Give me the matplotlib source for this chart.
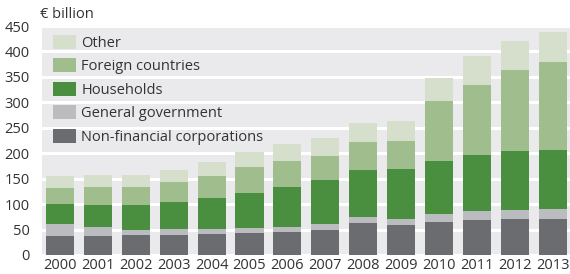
import numpy as np
import matplotlib.pyplot as plt
from matplotlib.patches import Patch

# --- data (EUR billion) ---
years = ["2000", "2001", "2002", "2003", "2004", "2005", "2006",
         "2007", "2008", "2009", "2010", "2011", "2012", "2013"]
nonfin_corps = [37, 37, 39, 39, 42, 44, 46, 50, 63, 59, 65, 69, 71, 71]
general_gov = [24, 18, 10, 12, 9, 10, 9, 11, 12, 12, 15, 18, 18, 20]
households = [40, 43, 49, 53, 61, 68, 78, 87, 92, 98, 104, 110, 115, 115]
foreign = [31, 36, 36, 39, 44, 51, 52, 47, 55, 55, 118, 138, 160, 174]
other = [23, 23, 23, 25, 27, 29, 33, 35, 37, 39, 46, 57, 57, 59]

series_names = ["Non-financial corporations", "General government",
                "Households", "Foreign countries", "Other"]
colors = ["#6b6c70", "#bbbcc0", "#4a8f3f", "#a0bd8e", "#d5dfcb"]
y_ticks = [0, 50, 100, 150, 200, 250, 300, 350, 400, 450]

plt.rcParams['font.family'] = ['Open Sans', 'DejaVu Sans']

fig = plt.figure(figsize=(5.70, 2.74), dpi=100)
ax = fig.add_axes([42 / 570, 19 / 274, 528 / 570, 229 / 274])
ax.set_facecolor("#eaeaec")

x = np.arange(len(years))
bottom = np.zeros(len(years))
for vals, col in zip([nonfin_corps, general_gov, households, foreign, other], colors):
    ax.bar(x, vals, width=0.74, bottom=bottom, color=col, zorder=3, linewidth=0)
    bottom += np.array(vals)

ax.set_xlim(-0.47, 13.45)
ax.set_ylim(0, 450)
ax.set_yticks(y_ticks)
ax.set_xticks(x)
ax.set_xticklabels(years)
ax.yaxis.grid(True, color="white", linewidth=2.2, zorder=1)
ax.set_axisbelow(True)
for s in ax.spines.values():
    s.set_visible(False)
ax.tick_params(length=0, labelsize=10.5, colors="#333333")
ax.tick_params(axis="y", pad=9)
ax.tick_params(axis="x", pad=2)

handles = [Patch(facecolor=c, edgecolor="none") for c in colors[::-1]]
leg = ax.legend(handles, series_names[::-1], loc="upper left",
                bbox_to_anchor=(0.004, 1.0), frameon=False, fontsize=10.5,
                handlelength=1.6, handleheight=1.1, handletextpad=0.35,
                labelspacing=0.52, borderaxespad=0.2, labelcolor="#333333")
leg.set_zorder(5)

fig.text(40 / 570, 1 - 15 / 274, "€ billion", fontsize=10.5, color="#333333",
         va="center", ha="left")

fig.savefig("out.png", dpi=100)
